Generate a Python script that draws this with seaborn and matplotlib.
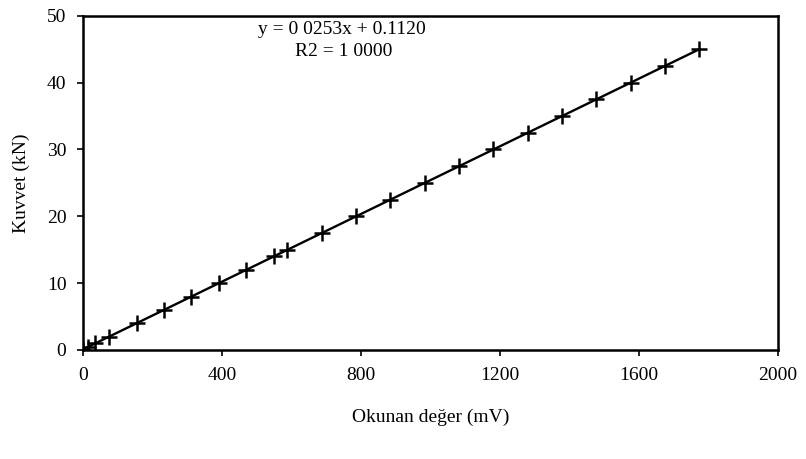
import pandas as pd
import matplotlib
matplotlib.use("Agg")
import matplotlib.pyplot as plt
import seaborn as sns

# okunan deger (mV) ve kuvvet (kN)
mv = [0, 15, 35, 75, 154, 233, 312, 391, 470, 549, 588, 687, 786,
      885, 984, 1083, 1181, 1280, 1379, 1478, 1577, 1675, 1774]
kn = [0, 0.5, 1, 2, 4, 6, 8, 10, 12, 14, 15, 17.5, 20,
      22.5, 25, 27.5, 30, 32.5, 35, 37.5, 40, 42.5, 45]
x_ticks = [0, 400, 800, 1200, 1600, 2000]
y_ticks = [0, 10, 20, 30, 40, 50]

df = pd.DataFrame({"mv": mv, "kn": kn})

sns.set_style("ticks")
plt.rcParams["font.family"] = ["Liberation Serif", "DejaVu Serif"]
plt.rcParams["text.color"] = "black"
plt.rcParams["axes.labelcolor"] = "black"
plt.rcParams["xtick.color"] = "black"
plt.rcParams["ytick.color"] = "black"

fig = plt.figure(figsize=(8.06, 4.59), dpi=100)
ax = fig.add_axes([0.103, 0.2375, 0.862, 0.728])

sns.regplot(x="mv", y="kn", data=df, ci=None, marker="+", color="black",
            scatter_kws={"s": 120, "linewidths": 1.8, "alpha": 1},
            line_kws={"linewidth": 1.7}, ax=ax)

ax.set_xlim(0, 2000)
ax.set_ylim(0, 50)
ax.set_xticks(x_ticks)
ax.set_yticks(y_ticks)
ax.tick_params(labelsize=14, length=4, width=1.2, direction="out", pad=8)
for s in ax.spines.values():
    s.set_visible(True)
    s.set_linewidth(1.8)
    s.set_color("black")

ax.set_xlabel("Okunan değer (mV)", fontsize=14, labelpad=18)
ax.set_ylabel("Kuvvet (kN)", fontsize=14, labelpad=12)

ax.text(0.373, 0.958, "y = 0 0253x + 0.1120", transform=ax.transAxes,
        ha="center", va="center", fontsize=14)
ax.text(0.375, 0.892, "R2 = 1 0000", transform=ax.transAxes,
        ha="center", va="center", fontsize=14)

fig.savefig("out.png", dpi=100)
